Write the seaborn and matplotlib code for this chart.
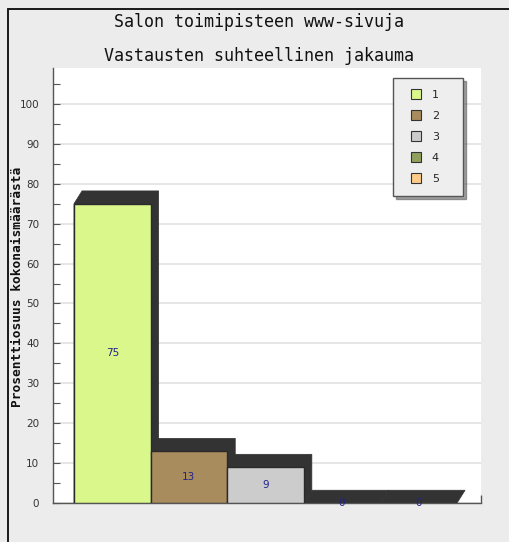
import matplotlib
matplotlib.use("Agg")
import matplotlib.pyplot as plt
from matplotlib.patches import Polygon
from matplotlib.lines import Line2D
from matplotlib.ticker import MultipleLocator
import seaborn as sns
import pandas as pd

# Answer categories and their share of all responses (%)
categories = ["1", "2", "3", "4", "5"]
values = [75, 13, 9, 0, 0]
colors = ["#d9f78a", "#a88c5e", "#cccccc", "#8fa15c", "#ffcc88"]

title = "Salon toimipisteen www-sivuja"
subtitle = "Vastausten suhteellinen jakauma"
ylabel = "Prosenttiosuus kokonaismäärästä"
yticks = list(range(0, 101, 10))

df = pd.DataFrame({"vastaus": categories, "osuus": values})

sns.set_style("white")
plt.rcParams["font.family"] = ["DejaVu Sans"]

W, H = 510, 542
fig = plt.figure(figsize=(W / 100, H / 100), dpi=100, facecolor="#ececec")

# Panel frame (left and top edges)
fig.add_artist(Line2D([8 / W, 8 / W], [0, 1 - 9 / H], color="#1a1a1a", lw=1.4,
                      transform=fig.transFigure))
fig.add_artist(Line2D([8 / W, 1.01], [1 - 9 / H, 1 - 9 / H], color="#1a1a1a",
                      lw=1.4, transform=fig.transFigure))

ax = fig.add_axes([53 / W, 1 - 503 / H, (481 - 53) / W, (503 - 68) / H])
ax.set_facecolor("white")

sns.barplot(data=df, x="vastaus", y="osuus", hue="vastaus", palette=colors,
            saturation=1, width=1.0, edgecolor="#2a2a2a", linewidth=1.0,
            legend=False, ax=ax, zorder=3)

ax.set_xlim(-0.774, 4.813)
ax.set_ylim(0, 109)

# Extruded dark depth behind each bar
dx, dy = 0.105, 3.2
for i, h in enumerate(values):
    x0, x1 = i - 0.5, i + 0.5
    pts = [(x0, 0), (x0, h), (x0 + dx, h + dy), (x1 + dx, h + dy),
           (x1 + dx, dy), (x1, 0)]
    ax.add_patch(Polygon(pts, closed=True, facecolor="#333333",
                         edgecolor="#333333", lw=0.5, zorder=2))

# Value labels in the middle of each bar
for i, h in enumerate(values):
    ax.text(i, h / 2, f"{h}", ha="center", va="center", fontsize=7.5,
            color="#22228a", zorder=5)

# Axes styling
ax.yaxis.set_major_locator(MultipleLocator(10))
ax.yaxis.set_minor_locator(MultipleLocator(5))
ax.set_yticks(yticks)
ax.set_yticklabels([str(t) for t in yticks])
ax.tick_params(axis="y", which="both", direction="in", length=5, width=0.8,
               color="#555555", labelsize=7.5, labelcolor="#333333", pad=10,
               left=True)
ax.set_xticks([4.813])
ax.set_xticklabels([])
ax.tick_params(axis="x", direction="in", length=6, width=1, color="#555555",
               bottom=True)
ax.set_xlabel("")
ax.set_ylabel("")
ax.grid(axis="y", which="major", color="#e2e2e2", lw=1.2, zorder=0)
ax.grid(axis="x", visible=False)
ax.set_axisbelow(True)
for side in ("top", "right"):
    ax.spines[side].set_visible(False)
for side in ("left", "bottom"):
    ax.spines[side].set_color("#555555")
    ax.spines[side].set_linewidth(1.0)

# Titles and axis label
fig.text(259.5 / W, 1 - 22 / H, title, ha="center", va="center",
         family="DejaVu Sans Mono", fontsize=12, color="#111111")
fig.text(259.5 / W, 1 - 56 / H, subtitle, ha="center", va="center",
         family="DejaVu Sans Mono", fontsize=12, color="#111111")
fig.text(18 / W, 1 - 287 / H, ylabel, ha="center", va="center", rotation=90,
         family="DejaVu Sans Mono", fontweight="bold", fontsize=9.3,
         color="#111111")

# Legend with small square swatches
handles = [Line2D([], [], marker="s", markersize=6.5, markerfacecolor=c,
                  markeredgecolor="#333333", markeredgewidth=0.8,
                  linestyle="None") for c in colors]
lx0 = (393 - 53) / 428
lw_ = (463 - 393) / 428
ly1 = 1 - (78 - 68) / 435
leg = ax.legend(handles, categories, loc="upper left", mode="expand",
                bbox_to_anchor=(lx0, ly1 - 0.3, lw_, 0.3),
                bbox_transform=ax.transAxes, borderaxespad=0,
                fontsize=8, handlelength=2.0, handleheight=0.8,
                handletextpad=0.4, borderpad=1.1, labelspacing=0.97,
                frameon=True, fancybox=False, shadow=True,
                facecolor="#eeeeee", edgecolor="#555555", framealpha=1)
leg.get_frame().set_linewidth(1.0)
leg.set_zorder(10)

fig.savefig("out.png", dpi=100, facecolor=fig.get_facecolor())
